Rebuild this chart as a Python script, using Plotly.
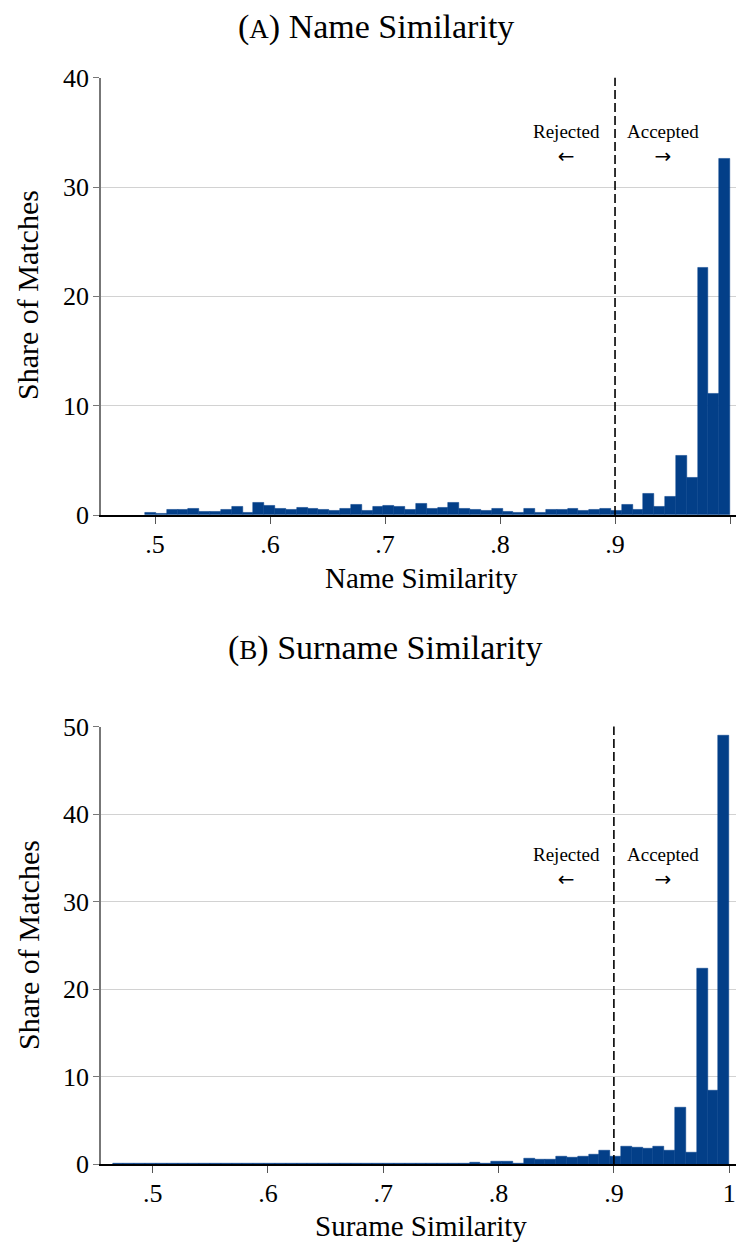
import numpy as np
import plotly.graph_objects as go

# Percent of matches per similarity bin (bins run from the lowest score up to 1)
name_bin_start = 0.4913
name_share = [
    0.18, 0.09, 0.46, 0.46, 0.55, 0.27, 0.27, 0.46, 0.73, 0.18,
    1.10, 0.82, 0.55, 0.46, 0.64, 0.55, 0.46, 0.37, 0.55, 0.91,
    0.37, 0.73, 0.82, 0.73, 0.46, 1.00, 0.55, 0.64, 1.10, 0.55,
    0.46, 0.37, 0.55, 0.27, 0.18, 0.55, 0.18, 0.46, 0.46, 0.55,
    0.37, 0.46, 0.55, 0.37, 0.91, 0.46, 1.92, 0.73, 1.64, 5.39,
    3.38, 22.6, 11.1, 32.6,
]

surname_bin_start = 0.4653
surname_share = [
    0.02, 0.02, 0.03, 0.02, 0.03, 0.03, 0.02, 0.03, 0.03, 0.03,
    0.02, 0.03, 0.03, 0.04, 0.03, 0.03, 0.03, 0.04, 0.03, 0.04,
    0.04, 0.03, 0.04, 0.05, 0.04, 0.08, 0.02, 0.02, 0.08, 0.08,
    0.08, 0.08, 0.05, 0.19, 0.05, 0.30, 0.30, 0.05, 0.63, 0.52,
    0.52, 0.86, 0.74, 0.86, 1.10, 1.56, 0.88, 2.02, 1.90, 1.79,
    2.02, 1.56, 6.50, 1.34, 22.3, 8.40, 49.0,
]

x_ticks = [0.5, 0.6, 0.7, 0.8, 0.9, 1.0]
x_tick_text = [".5", ".6", ".7", ".8", ".9", "1"]
name_y_ticks = [0, 10, 20, 30, 40]
surname_y_ticks = [0, 10, 20, 30, 40, 50]
cutoff = 0.9

BAR = "#033f88"
FONT = "Liberation Serif"
W, H = 736, 1246


def bins(start, values):
    n = len(values)
    width = (1.0 - start) / n
    centers = start + width * (np.arange(n) + 0.5)
    return centers, width


fig = go.Figure()

for vals, start, xa, ya in [
    (name_share, name_bin_start, "x", "y"),
    (surname_share, surname_bin_start, "x2", "y2"),
]:
    c, w = bins(start, vals)
    fig.add_trace(go.Bar(
        x=c, y=vals, width=w, xaxis=xa, yaxis=ya,
        marker=dict(color=BAR, line=dict(color=BAR, width=0.5)),
        showlegend=False, hoverinfo="skip",
    ))

x_dom = [101 / W, 1.0]
dom_a = [1 - 515 / H, 1 - 77.7 / H]
dom_b = [1 - 1164 / H, 1 - 726.5 / H]

xaxis_common = dict(
    tickvals=x_ticks, ticktext=x_tick_text, ticks="outside", ticklen=7,
    tickwidth=1.3, tickcolor="#555555", showline=True, linecolor="black",
    linewidth=1.5, showgrid=False, zeroline=False, domain=x_dom,
    automargin=False,
    tickfont=dict(family=FONT, size=26, color="black"), ticklabelstandoff=-2,
)
yaxis_common = dict(
    ticks="outside", ticklen=6, tickwidth=1.3, tickcolor="#777777",
    showline=True, linecolor="#777777", linewidth=1.5, showgrid=True,
    gridcolor="#d2d2d2", gridwidth=1.2, zeroline=False, automargin=False,
    tickfont=dict(family=FONT, size=26, color="black"), ticklabelstandoff=-1,
)

fig.update_layout(
    template="none",
    width=W, height=H, margin=dict(l=0, r=0, t=0, b=0, pad=0),
    font=dict(family=FONT, color="black"),
    paper_bgcolor="white", plot_bgcolor="white", bargap=0,
    xaxis=dict(range=[0.4530, 1.0052], anchor="y", **xaxis_common),
    xaxis2=dict(range=[0.4552, 1.0059], anchor="y2", **xaxis_common),
    yaxis=dict(range=[0, 40], tickvals=name_y_ticks, domain=dom_a,
               anchor="x", **yaxis_common),
    yaxis2=dict(range=[0, 50], tickvals=surname_y_ticks, domain=dom_b,
                anchor="x2", **yaxis_common),
)

# Acceptance threshold
for xr, yr in [("x", "y"), ("x2", "y2")]:
    fig.add_shape(type="line", xref=xr, yref=f"{yr} domain", x0=cutoff, x1=cutoff,
                  y0=0, y1=1, line=dict(color="black", width=1.6, dash="9px,4px"))

CENTER = dict(xanchor="center", yanchor="middle", showarrow=False)
ARROW = "<span style='font-family:DejaVu Sans;font-size:20px'>{}</span>"

ann = []
# Threshold labels, each with its direction arrow underneath
for xr, yr, shift in [("x", "y", 0.0), ("x2", "y2", 0.001)]:
    ann += [
        dict(x=0.8578 + shift, y=33.9, xref=xr, yref=yr,
             text="Rejected<br>" + ARROW.format("←"),
             font=dict(family=FONT, size=19, color="black"), **CENTER),
        dict(x=0.9415 + shift, y=33.9, xref=xr, yref=yr,
             text="Accepted<br>" + ARROW.format("→"),
             font=dict(family=FONT, size=19, color="black"), **CENTER),
    ]

# Panel titles
ann += [
    dict(x=375.5 / W, y=1 - 27 / H, xref="paper", yref="paper",
         text="(<span style='font-size:27px'>A</span>) Name Similarity",
         font=dict(family=FONT, size=34, color="black"), **CENTER),
    dict(x=385.5 / W, y=1 - 648 / H, xref="paper", yref="paper",
         text="(<span style='font-size:27px'>B</span>) Surname Similarity",
         font=dict(family=FONT, size=34, color="black"), **CENTER),
]

# Axis titles
ann += [
    dict(x=421 / W, y=1 - 578 / H, xref="paper", yref="paper",
         text="Name Similarity",
         font=dict(family=FONT, size=29, color="black"), **CENTER),
    dict(x=421 / W, y=1 - 1226 / H, xref="paper", yref="paper",
         text="Surame Similarity",
         font=dict(family=FONT, size=29, color="black"), **CENTER),
    dict(x=28 / W, y=1 - 295 / H, xref="paper", yref="paper",
         text="Share of Matches", textangle=-90,
         font=dict(family=FONT, size=30, color="black"), **CENTER),
    dict(x=28 / W, y=1 - 945 / H, xref="paper", yref="paper",
         text="Share of Matches", textangle=-90,
         font=dict(family=FONT, size=30, color="black"), **CENTER),
]
fig.update_layout(annotations=ann)

fig.write_html("out.html")
